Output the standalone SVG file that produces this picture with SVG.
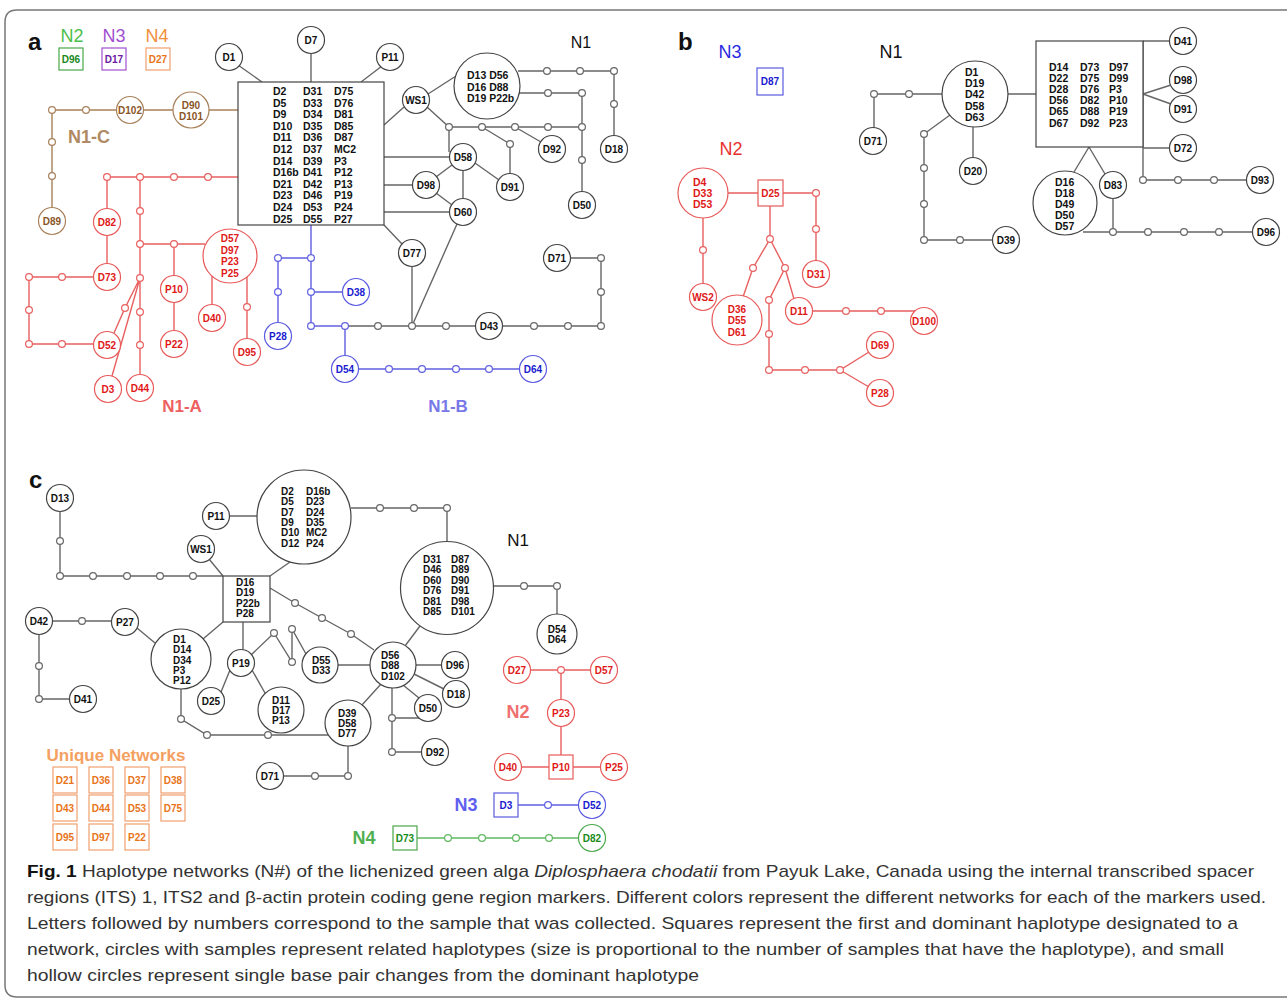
<svg xmlns="http://www.w3.org/2000/svg" xmlns:xlink="http://www.w3.org/1999/xlink" width="1287" height="998" viewBox="0 0 1287 998">
<style>
text{font-family:"Liberation Sans",Arial,Helvetica,sans-serif}
.n{font-weight:bold;font-size:10px;text-anchor:middle;dominant-baseline:central}
.nl{font-weight:bold;font-size:10.5px;dominant-baseline:central}
.c9{font-size:10px}
.K circle,.K rect{fill:#fff;stroke:#444;stroke-width:1.2}.K text{fill:#111}
.R circle,.R rect{fill:#fff;stroke:#e85a5a;stroke-width:1.2}.R text{fill:#e01818}
.B circle,.B rect{fill:#fff;stroke:#5a5ae0;stroke-width:1.2}.B text{fill:#1a1ad0}
.BR circle,.BR rect{fill:#fff;stroke:#a8805a;stroke-width:1.2}.BR text{fill:#8a5526}
.G circle,.G rect{fill:#fff;stroke:#4aa84a;stroke-width:1.2}.G text{fill:#1a8a1a}
.P rect{fill:#fff;stroke:#a050d0;stroke-width:1.2}.P text{fill:#6a1aa0}
.O rect{fill:#fff;stroke:#f0a070;stroke-width:1.2}.O text{fill:#e8741a}
.ck{stroke:#666;stroke-width:1.4;fill:none}
.cr{stroke:#e86060;stroke-width:1.4;fill:none}
.cb{stroke:#6060e0;stroke-width:1.4;fill:none}
.cbr{stroke:#a8805a;stroke-width:1.4;fill:none}
.cg{stroke:#60b860;stroke-width:1.4;fill:none}
.sK use{fill:#fff;stroke:#666;stroke-width:1.2}
.sR use{fill:#fff;stroke:#e86060;stroke-width:1.2}
.sB use{fill:#fff;stroke:#6060e0;stroke-width:1.2}
.sBR use{fill:#fff;stroke:#a8805a;stroke-width:1.2}
.sG use{fill:#fff;stroke:#60b860;stroke-width:1.2}
.lab{font-weight:bold}
.cap{font-size:17px;fill:#333}
</style>
<defs><circle id="s" r="3.4"/></defs>
<rect width="1287" height="998" fill="#fff"/>
<path d="M1300,10 H17 Q5,10 5,22 V985 Q5,997 17,997 H1300" fill="none" stroke="#777" stroke-width="1.5"/>

<!-- panel labels -->
<g id="labels">
<text x="28" y="50" font-size="24" font-weight="bold" fill="#111">a</text>
<text x="678" y="50" font-size="24" font-weight="bold" fill="#111">b</text>
<text x="29" y="488" font-size="24" font-weight="bold" fill="#111">c</text>
<text x="72" y="42" font-size="18" text-anchor="middle" fill="#4cc04c">N2</text>
<text x="114" y="42" font-size="18" text-anchor="middle" fill="#a050d0">N3</text>
<text x="157" y="42" font-size="18" text-anchor="middle" fill="#f09040">N4</text>
<text x="581" y="48" font-size="16" text-anchor="middle" fill="#111">N1</text>
<text x="89" y="143" font-size="18" class="lab" text-anchor="middle" fill="#b08a64">N1-C</text>
<text x="182" y="412" font-size="17" class="lab" text-anchor="middle" fill="#ee6060">N1-A</text>
<text x="448" y="412" font-size="17" class="lab" text-anchor="middle" fill="#7878e8">N1-B</text>
<text x="730" y="58" font-size="18" text-anchor="middle" fill="#2a2ae0">N3</text>
<text x="731" y="155" font-size="18" text-anchor="middle" fill="#e83030">N2</text>
<text x="891" y="58" font-size="18" text-anchor="middle" fill="#111">N1</text>
<text x="518" y="546" font-size="17" text-anchor="middle" fill="#111">N1</text>
<text x="518" y="718" font-size="18" class="lab" text-anchor="middle" fill="#f07070">N2</text>
<text x="466" y="811" font-size="18" class="lab" text-anchor="middle" fill="#6060f0">N3</text>
<text x="364" y="844" font-size="18" class="lab" text-anchor="middle" fill="#50b050">N4</text>
<text x="116" y="761" font-size="17" class="lab" text-anchor="middle" fill="#f4a060">Unique Networks</text>
</g>

<g id="connectors">
<!-- panel a black -->
<path class="ck" d="M238,65 L262,82 M311,53.5 V82 M382,66 L361,82 M384,125 L404,107 M428,94 L456,76 M518,71 H614 V135.5 M519,93 H582 V191.5 M427,107 L449,127 H582 M449,127 V152 M482,127 L510,144 V173.5 M515,127 L541,142 M384,157 H449.5 M384,185 H412.5 M384,212 H449.5 M452,165 L436,177 M436,193 L452,205 M463,170.5 V198.5 M475,163 L499,180 M457,224 L412,326 M384,225 L402,244 M412,266.5 V326 M345,326 H475.5 M502.5,326 H601 V258 H570.5"/>
<!-- panel a blue -->
<path class="cb" d="M311,225 V326 H345 V355.5 M311,258 H278 V322.5 M311,292 H342.5 M358.5,369 H519.5"/>
<!-- panel a red -->
<path class="cr" d="M238,177 H107 V208.5 M107,235.5 V263.5 M93.5,277 H29 V344 H93.5 M140,177 V374.5 M140,244 H205 M174,244 V275.5 M174,302.5 V330.5 M212,276 V304.5 M247,277 V338.5 M140,278 L125,308 L114,333 M140,278 L112,376"/>
<!-- panel a brown -->
<path class="cbr" d="M238,110 H209 M173,110 H143.5 M116.5,110 H52 V207.5"/>
<!-- panel b red -->
<path class="cr" d="M728,193 H758 M783,193 H816 V260.5 M703,218 V283.5 M770,206 V239 L753,268 L743,297 M770,239 L785,268 L794,299 M785,268 L769,300 V370 H840 L869,352 M840,370 L869,387 M812.5,311 H915"/>
<!-- panel b black -->
<path class="ck" d="M942,94 H874 V127.5 M950,115 L924,134 V240 H992.5 M973,127 V157.5 M1008,94 H1036 M1143,41 H1169.5 M1143,41 V180 H1246.5 M1143,94 L1171,85 M1143,94 L1171,104 M1143,148 H1169.5 M1089,147 L1074,172 M1089,147 L1105,174 M1113,198.5 V232 M1083,232 H1252.5"/>
<!-- panel c black -->
<path class="ck" d="M60,511.5 V576 H223 M209,559 L223,576 M229.5,516 H257 M290,562 L270,576 M351,508 H447 V541 M493,586 H557 V614 M420,626 L405,646 M270,588 L295,603 L322,618 L351,634 L374,650 M338,665 H370 M306,654 L292,629 V662 L274,633 L251,655 M243,622 V649.5 M230,670 L221,692 M252,670 L265,693 M203,639 L223,622 M137,628 L155,643 M52.5,621 H111.5 M39,634.5 V699 H69.5 M181,689 V719 L207,735 H328 M362,705 L381,684 M348,746 V776 H283.5 M416,665 H441.5 M414,674 L444,689 M403,685 L419,698 M392,688 V752 H421.5 M392,718 H420"/>
<!-- panel c red -->
<path class="cr" d="M530.5,670 H590.5 M561,670 V699.5 M561,726.5 V755 M521.5,767 H549 M573,767 H600.5"/>
<!-- panel c blue / green -->
<path class="cb" d="M518,805 H578.5"/>
<path class="cg" d="M417,838 H578.5"/>
</g>

<!-- ===== panel a nodes ===== -->
<g id="a-legend">
<g id="a-N2-D96" class="G"><rect x="59" y="48" width="24" height="22"/><text class="n" x="71" y="59" font-size="9">D96</text></g>
<g id="a-N3-D17" class="P"><rect x="102" y="48" width="24" height="22"/><text class="n" x="114" y="59" font-size="9">D17</text></g>
<g id="a-N4-D27" class="O"><rect x="146" y="48" width="24" height="22"/><text class="n" x="158" y="59" font-size="9">D27</text></g>
</g>
<g id="a-hub" class="K"><rect x="238" y="82" width="146" height="143"/>
<text class="nl" x="273" y="91"><tspan x="273">D2</tspan><tspan x="273" dy="11.6">D5</tspan><tspan x="273" dy="11.6">D9</tspan><tspan x="273" dy="11.6">D10</tspan><tspan x="273" dy="11.6">D11</tspan><tspan x="273" dy="11.6">D12</tspan><tspan x="273" dy="11.6">D14</tspan><tspan x="273" dy="11.6">D16b</tspan><tspan x="273" dy="11.6">D21</tspan><tspan x="273" dy="11.6">D23</tspan><tspan x="273" dy="11.6">D24</tspan><tspan x="273" dy="11.6">D25</tspan></text>
<text class="nl" x="303" y="91"><tspan x="303">D31</tspan><tspan x="303" dy="11.6">D33</tspan><tspan x="303" dy="11.6">D34</tspan><tspan x="303" dy="11.6">D35</tspan><tspan x="303" dy="11.6">D36</tspan><tspan x="303" dy="11.6">D37</tspan><tspan x="303" dy="11.6">D39</tspan><tspan x="303" dy="11.6">D41</tspan><tspan x="303" dy="11.6">D42</tspan><tspan x="303" dy="11.6">D46</tspan><tspan x="303" dy="11.6">D53</tspan><tspan x="303" dy="11.6">D55</tspan></text>
<text class="nl" x="334" y="91"><tspan x="334">D75</tspan><tspan x="334" dy="11.6">D76</tspan><tspan x="334" dy="11.6">D81</tspan><tspan x="334" dy="11.6">D85</tspan><tspan x="334" dy="11.6">D87</tspan><tspan x="334" dy="11.6">MC2</tspan><tspan x="334" dy="11.6">P3</tspan><tspan x="334" dy="11.6">P12</tspan><tspan x="334" dy="11.6">P13</tspan><tspan x="334" dy="11.6">P19</tspan><tspan x="334" dy="11.6">P24</tspan><tspan x="334" dy="11.6">P27</tspan></text>
</g>
<g id="a-D1" class="K"><circle cx="229" cy="57" r="13.5"/><text class="n" x="229" y="57">D1</text></g>
<g id="a-D7" class="K"><circle cx="311" cy="40" r="13.5"/><text class="n" x="311" y="40">D7</text></g>
<g id="a-P11" class="K"><circle cx="390" cy="57" r="13.5"/><text class="n" x="390" y="57">P11</text></g>
<g id="a-WS1" class="K"><circle cx="416" cy="100" r="13.5"/><text class="n" x="416" y="100">WS1</text></g>
<g id="a-D13" class="K"><circle cx="487" cy="86" r="33"/><text class="nl" x="467" y="75"><tspan x="467">D13 D56</tspan><tspan x="467" dy="11.5">D16 D88</tspan><tspan x="467" dy="11.5">D19 P22b</tspan></text></g>
<g id="a-D18" class="K"><circle cx="614" cy="149" r="13.5"/><text class="n" x="614" y="149">D18</text></g>
<g id="a-D50" class="K"><circle cx="582" cy="205" r="13.5"/><text class="n" x="582" y="205">D50</text></g>
<g id="a-D92" class="K"><circle cx="552" cy="149" r="13.5"/><text class="n" x="552" y="149">D92</text></g>
<g id="a-D91" class="K"><circle cx="510" cy="187" r="13.5"/><text class="n" x="510" y="187">D91</text></g>
<g id="a-D58" class="K"><circle cx="463" cy="157" r="13.5"/><text class="n" x="463" y="157">D58</text></g>
<g id="a-D98" class="K"><circle cx="426" cy="185" r="13.5"/><text class="n" x="426" y="185">D98</text></g>
<g id="a-D60" class="K"><circle cx="463" cy="212" r="13.5"/><text class="n" x="463" y="212">D60</text></g>
<g id="a-D77" class="K"><circle cx="412" cy="253" r="13.5"/><text class="n" x="412" y="253">D77</text></g>
<g id="a-D43" class="K"><circle cx="489" cy="326" r="13.5"/><text class="n" x="489" y="326">D43</text></g>
<g id="a-D71" class="K"><circle cx="557" cy="258" r="13.5"/><text class="n" x="557" y="258">D71</text></g>
<g id="a-P28" class="B"><circle cx="278" cy="336" r="13.5"/><text class="n" x="278" y="336">P28</text></g>
<g id="a-D38" class="B"><circle cx="356" cy="292" r="13.5"/><text class="n" x="356" y="292">D38</text></g>
<g id="a-D54" class="B"><circle cx="345" cy="369" r="13.5"/><text class="n" x="345" y="369">D54</text></g>
<g id="a-D64" class="B"><circle cx="533" cy="369" r="13.5"/><text class="n" x="533" y="369">D64</text></g>
<g id="a-D82" class="R"><circle cx="107" cy="222" r="13.5"/><text class="n" x="107" y="222">D82</text></g>
<g id="a-D73" class="R"><circle cx="107" cy="277" r="13.5"/><text class="n" x="107" y="277">D73</text></g>
<g id="a-D52" class="R"><circle cx="107" cy="345" r="13.5"/><text class="n" x="107" y="345">D52</text></g>
<g id="a-D3" class="R"><circle cx="108" cy="389" r="13.5"/><text class="n" x="108" y="389">D3</text></g>
<g id="a-D44" class="R"><circle cx="140" cy="388" r="13.5"/><text class="n" x="140" y="388">D44</text></g>
<g id="a-P10" class="R"><circle cx="174" cy="289" r="13.5"/><text class="n" x="174" y="289">P10</text></g>
<g id="a-P22" class="R"><circle cx="174" cy="344" r="13.5"/><text class="n" x="174" y="344">P22</text></g>
<g id="a-D40" class="R"><circle cx="212" cy="318" r="13.5"/><text class="n" x="212" y="318">D40</text></g>
<g id="a-D95" class="R"><circle cx="247" cy="352" r="13.5"/><text class="n" x="247" y="352">D95</text></g>
<g id="a-D57" class="R"><circle cx="230" cy="256" r="27"/><text class="n" x="230" y="238"><tspan x="230">D57</tspan><tspan x="230" dy="11.7">D97</tspan><tspan x="230" dy="11.7">P23</tspan><tspan x="230" dy="11.7">P25</tspan></text></g>
<g id="a-D90" class="BR"><circle cx="191" cy="110" r="18"/><text class="n" x="191" y="104.5"><tspan x="191">D90</tspan><tspan x="191" dy="11">D101</tspan></text></g>
<g id="a-D102" class="BR"><circle cx="130" cy="110" r="13.5"/><text class="n" x="130" y="110">D102</text></g>
<g id="a-D89" class="BR"><circle cx="52" cy="221" r="13.5"/><text class="n" x="52" y="221">D89</text></g>

<!-- ===== panel b nodes ===== -->
<g id="b-D87" class="B"><rect x="757" y="68" width="26" height="27"/><text class="n" x="770" y="81.5">D87</text></g>
<g id="b-D25" class="R"><rect x="758" y="180" width="25" height="26"/><text class="n" x="770.5" y="193">D25</text></g>
<g id="b-D4" class="R"><circle cx="703" cy="193" r="25"/><text class="nl" x="693" y="182"><tspan x="693">D4</tspan><tspan x="693" dy="11">D33</tspan><tspan x="693" dy="11">D53</tspan></text></g>
<g id="b-D31" class="R"><circle cx="816" cy="274" r="13.5"/><text class="n" x="816" y="274">D31</text></g>
<g id="b-WS2" class="R"><circle cx="703" cy="297" r="13.5"/><text class="n" x="703" y="297">WS2</text></g>
<g id="b-D36" class="R"><circle cx="737" cy="320" r="25"/><text class="n" x="737" y="309"><tspan x="737">D36</tspan><tspan x="737" dy="11.3">D55</tspan><tspan x="737" dy="11.3">D61</tspan></text></g>
<g id="b-D11" class="R"><circle cx="799" cy="311" r="13.5"/><text class="n" x="799" y="311">D11</text></g>
<g id="b-D100" class="R"><circle cx="924" cy="321" r="13.5"/><text class="n" x="924" y="321">D100</text></g>
<g id="b-D69" class="R"><circle cx="880" cy="345" r="13.5"/><text class="n" x="880" y="345">D69</text></g>
<g id="b-P28" class="R"><circle cx="880" cy="393" r="13.5"/><text class="n" x="880" y="393">P28</text></g>
<g id="b-D1" class="K"><circle cx="975" cy="94" r="33"/><text class="nl" x="965" y="72"><tspan x="965">D1</tspan><tspan x="965" dy="11.2">D19</tspan><tspan x="965" dy="11.2">D42</tspan><tspan x="965" dy="11.2">D58</tspan><tspan x="965" dy="11.2">D63</tspan></text></g>
<g id="b-D71" class="K"><circle cx="873" cy="141" r="13.5"/><text class="n" x="873" y="141">D71</text></g>
<g id="b-D20" class="K"><circle cx="973" cy="171" r="13.5"/><text class="n" x="973" y="171">D20</text></g>
<g id="b-D39" class="K"><circle cx="1006" cy="240" r="13.5"/><text class="n" x="1006" y="240">D39</text></g>
<g id="b-hub" class="K"><rect x="1036" y="41" width="107" height="106"/>
<text class="nl" x="1049" y="67"><tspan x="1049">D14</tspan><tspan x="1049" dy="11.1">D22</tspan><tspan x="1049" dy="11.1">D28</tspan><tspan x="1049" dy="11.1">D56</tspan><tspan x="1049" dy="11.1">D65</tspan><tspan x="1049" dy="11.1">D67</tspan></text>
<text class="nl" x="1080" y="67"><tspan x="1080">D73</tspan><tspan x="1080" dy="11.1">D75</tspan><tspan x="1080" dy="11.1">D76</tspan><tspan x="1080" dy="11.1">D82</tspan><tspan x="1080" dy="11.1">D88</tspan><tspan x="1080" dy="11.1">D92</tspan></text>
<text class="nl" x="1109" y="67"><tspan x="1109">D97</tspan><tspan x="1109" dy="11.1">D99</tspan><tspan x="1109" dy="11.1">P3</tspan><tspan x="1109" dy="11.1">P10</tspan><tspan x="1109" dy="11.1">P19</tspan><tspan x="1109" dy="11.1">P23</tspan></text>
</g>
<g id="b-D41" class="K"><circle cx="1183" cy="41" r="13.5"/><text class="n" x="1183" y="41">D41</text></g>
<g id="b-D98" class="K"><circle cx="1183" cy="80" r="13.5"/><text class="n" x="1183" y="80">D98</text></g>
<g id="b-D91" class="K"><circle cx="1183" cy="109" r="13.5"/><text class="n" x="1183" y="109">D91</text></g>
<g id="b-D72" class="K"><circle cx="1183" cy="148" r="13.5"/><text class="n" x="1183" y="148">D72</text></g>
<g id="b-D93" class="K"><circle cx="1260" cy="180" r="13.5"/><text class="n" x="1260" y="180">D93</text></g>
<g id="b-D16" class="K"><circle cx="1065" cy="203" r="32"/><text class="nl" x="1055" y="182"><tspan x="1055">D16</tspan><tspan x="1055" dy="11">D18</tspan><tspan x="1055" dy="11">D49</tspan><tspan x="1055" dy="11">D50</tspan><tspan x="1055" dy="11">D57</tspan></text></g>
<g id="b-D83" class="K"><circle cx="1113" cy="185" r="13.5"/><text class="n" x="1113" y="185">D83</text></g>
<g id="b-D96" class="K"><circle cx="1266" cy="232" r="13.5"/><text class="n" x="1266" y="232">D96</text></g>

<!-- ===== panel c nodes ===== -->
<g id="c-D13" class="K"><circle cx="60" cy="498" r="13.5"/><text class="n c9" x="60" y="498">D13</text></g>
<g id="c-P11" class="K"><circle cx="216" cy="516" r="13.5"/><text class="n c9" x="216" y="516">P11</text></g>
<g id="c-WS1" class="K"><circle cx="201" cy="549" r="13.5"/><text class="n c9" x="201" y="549">WS1</text></g>
<g id="c-D2" class="K"><circle cx="304" cy="517" r="47"/>
<text class="nl c9" x="281" y="491"><tspan x="281">D2</tspan><tspan x="281" dy="10.3">D5</tspan><tspan x="281" dy="10.3">D7</tspan><tspan x="281" dy="10.3">D9</tspan><tspan x="281" dy="10.3">D10</tspan><tspan x="281" dy="10.3">D12</tspan></text>
<text class="nl c9" x="306" y="491"><tspan x="306">D16b</tspan><tspan x="306" dy="10.3">D23</tspan><tspan x="306" dy="10.3">D24</tspan><tspan x="306" dy="10.3">D35</tspan><tspan x="306" dy="10.3">MC2</tspan><tspan x="306" dy="10.3">P24</tspan></text></g>
<g id="c-D16" class="K"><rect x="223" y="576" width="47" height="46"/><text class="nl c9" x="236" y="582"><tspan x="236">D16</tspan><tspan x="236" dy="10.4">D19</tspan><tspan x="236" dy="10.4">P22b</tspan><tspan x="236" dy="10.4">P28</tspan></text></g>
<g id="c-D31" class="K"><circle cx="447" cy="588" r="46.5"/>
<text class="nl c9" x="423" y="559"><tspan x="423">D31</tspan><tspan x="423" dy="10.4">D46</tspan><tspan x="423" dy="10.4">D60</tspan><tspan x="423" dy="10.4">D76</tspan><tspan x="423" dy="10.4">D81</tspan><tspan x="423" dy="10.4">D85</tspan></text>
<text class="nl c9" x="451" y="559"><tspan x="451">D87</tspan><tspan x="451" dy="10.4">D89</tspan><tspan x="451" dy="10.4">D90</tspan><tspan x="451" dy="10.4">D91</tspan><tspan x="451" dy="10.4">D98</tspan><tspan x="451" dy="10.4">D101</tspan></text></g>
<g id="c-D54" class="K"><circle cx="557" cy="634" r="20"/><text class="n c9" x="557" y="629"><tspan x="557">D54</tspan><tspan x="557" dy="10.3">D64</tspan></text></g>
<g id="c-D56" class="K"><circle cx="393" cy="665" r="23"/><text class="nl c9" x="381" y="654.5"><tspan x="381">D56</tspan><tspan x="381" dy="10.6">D88</tspan><tspan x="381" dy="10.6">D102</tspan></text></g>
<g id="c-D55" class="K"><circle cx="320" cy="665" r="18"/><text class="nl c9" x="312" y="659.5"><tspan x="312">D55</tspan><tspan x="312" dy="10.4">D33</tspan></text></g>
<g id="c-P19" class="K"><circle cx="241" cy="663" r="13.5"/><text class="n c9" x="241" y="663">P19</text></g>
<g id="c-D25" class="K"><circle cx="211" cy="701" r="13.5"/><text class="n c9" x="211" y="701">D25</text></g>
<g id="c-D11" class="K"><circle cx="281" cy="710" r="23"/><text class="nl c9" x="272" y="699.5"><tspan x="272">D11</tspan><tspan x="272" dy="10.4">D17</tspan><tspan x="272" dy="10.4">P13</tspan></text></g>
<g id="c-D1" class="K"><circle cx="181" cy="659" r="30"/><text class="nl c9" x="173" y="639"><tspan x="173">D1</tspan><tspan x="173" dy="10.3">D14</tspan><tspan x="173" dy="10.3">D34</tspan><tspan x="173" dy="10.3">P3</tspan><tspan x="173" dy="10.3">P12</tspan></text></g>
<g id="c-P27" class="K"><circle cx="125" cy="622" r="13.5"/><text class="n c9" x="125" y="622">P27</text></g>
<g id="c-D42" class="K"><circle cx="39" cy="621" r="13.5"/><text class="n c9" x="39" y="621">D42</text></g>
<g id="c-D41" class="K"><circle cx="83" cy="699" r="13.5"/><text class="n c9" x="83" y="699">D41</text></g>
<g id="c-D39" class="K"><circle cx="348" cy="723" r="23"/><text class="nl c9" x="338" y="712.5"><tspan x="338">D39</tspan><tspan x="338" dy="10.4">D58</tspan><tspan x="338" dy="10.4">D77</tspan></text></g>
<g id="c-D71" class="K"><circle cx="270" cy="776" r="13.5"/><text class="n c9" x="270" y="776">D71</text></g>
<g id="c-D96" class="K"><circle cx="455" cy="665" r="13.5"/><text class="n c9" x="455" y="665">D96</text></g>
<g id="c-D18" class="K"><circle cx="456" cy="694" r="13.5"/><text class="n c9" x="456" y="694">D18</text></g>
<g id="c-D50" class="K"><circle cx="428" cy="708" r="13.5"/><text class="n c9" x="428" y="708">D50</text></g>
<g id="c-D92" class="K"><circle cx="435" cy="752" r="13.5"/><text class="n c9" x="435" y="752">D92</text></g>
<g id="c-D27" class="R"><circle cx="517" cy="670" r="13.5"/><text class="n c9" x="517" y="670">D27</text></g>
<g id="c-D57" class="R"><circle cx="604" cy="670" r="13.5"/><text class="n c9" x="604" y="670">D57</text></g>
<g id="c-P23" class="R"><circle cx="561" cy="713" r="13.5"/><text class="n c9" x="561" y="713">P23</text></g>
<g id="c-P10" class="R"><rect x="549" y="755" width="24" height="24"/><text class="n c9" x="561" y="767">P10</text></g>
<g id="c-D40" class="R"><circle cx="508" cy="767" r="13.5"/><text class="n c9" x="508" y="767">D40</text></g>
<g id="c-P25" class="R"><circle cx="614" cy="767" r="13.5"/><text class="n c9" x="614" y="767">P25</text></g>
<g id="c-D3" class="B"><rect x="494" y="793" width="24" height="24"/><text class="n c9" x="506" y="805">D3</text></g>
<g id="c-D52" class="B"><circle cx="592" cy="805" r="13.5"/><text class="n c9" x="592" y="805">D52</text></g>
<g id="c-D73" class="G"><rect x="393" y="826" width="24" height="24"/><text class="n c9" x="405" y="838">D73</text></g>
<g id="c-D82" class="G"><circle cx="592" cy="838" r="13.5"/><text class="n c9" x="592" y="838">D82</text></g>
<g id="c-unique" class="O">
<rect x="53" y="767" width="24" height="26"/><text class="n c9" x="65" y="780">D21</text>
<rect x="89" y="767" width="24" height="26"/><text class="n c9" x="101" y="780">D36</text>
<rect x="125" y="767" width="24" height="26"/><text class="n c9" x="137" y="780">D37</text>
<rect x="161" y="767" width="24" height="26"/><text class="n c9" x="173" y="780">D38</text>
<rect x="53" y="795" width="24" height="26"/><text class="n c9" x="65" y="808">D43</text>
<rect x="89" y="795" width="24" height="26"/><text class="n c9" x="101" y="808">D44</text>
<rect x="125" y="795" width="24" height="26"/><text class="n c9" x="137" y="808">D53</text>
<rect x="161" y="795" width="24" height="26"/><text class="n c9" x="173" y="808">D75</text>
<rect x="53" y="824" width="24" height="26"/><text class="n c9" x="65" y="837">D95</text>
<rect x="89" y="824" width="24" height="26"/><text class="n c9" x="101" y="837">D97</text>
<rect x="125" y="824" width="24" height="26"/><text class="n c9" x="137" y="837">P22</text>
</g>

<!-- mutation steps -->
<g id="steps">
<g class="sK">
<use href="#s" x="547" y="71"/><use href="#s" x="580" y="71"/><use href="#s" x="614" y="71"/><use href="#s" x="614" y="104"/><use href="#s" x="548" y="93"/><use href="#s" x="582" y="93"/><use href="#s" x="582" y="127"/><use href="#s" x="582" y="160"/><use href="#s" x="449" y="127"/><use href="#s" x="482" y="127"/><use href="#s" x="515" y="127"/><use href="#s" x="548" y="127"/><use href="#s" x="510" y="144"/><use href="#s" x="378" y="326"/><use href="#s" x="412" y="326"/><use href="#s" x="446" y="326"/><use href="#s" x="534" y="326"/><use href="#s" x="568" y="326"/><use href="#s" x="601" y="326"/><use href="#s" x="601" y="292"/><use href="#s" x="601" y="258"/>
<use href="#s" x="909" y="94"/><use href="#s" x="874" y="94"/><use href="#s" x="924" y="134"/><use href="#s" x="924" y="168"/><use href="#s" x="924" y="204"/><use href="#s" x="924" y="240"/><use href="#s" x="960" y="240"/><use href="#s" x="1143" y="180"/><use href="#s" x="1178" y="180"/><use href="#s" x="1214" y="180"/><use href="#s" x="1113" y="232"/><use href="#s" x="1148" y="232"/><use href="#s" x="1184" y="232"/><use href="#s" x="1219" y="232"/>
<use href="#s" x="60" y="541"/><use href="#s" x="60" y="576"/><use href="#s" x="93" y="576"/><use href="#s" x="127" y="576"/><use href="#s" x="160" y="576"/><use href="#s" x="193" y="576"/><use href="#s" x="380" y="508"/><use href="#s" x="414" y="508"/><use href="#s" x="447" y="508"/><use href="#s" x="524" y="586"/><use href="#s" x="557" y="586"/><use href="#s" x="295" y="603"/><use href="#s" x="322" y="618"/><use href="#s" x="351" y="634"/><use href="#s" x="292" y="629"/><use href="#s" x="292" y="662"/><use href="#s" x="274" y="633"/><use href="#s" x="82" y="621"/><use href="#s" x="39" y="666"/><use href="#s" x="39" y="699"/><use href="#s" x="181" y="719"/><use href="#s" x="207" y="735"/><use href="#s" x="268" y="735"/><use href="#s" x="348" y="776"/><use href="#s" x="315" y="776"/><use href="#s" x="392" y="718"/><use href="#s" x="392" y="752"/>
</g>
<g class="sB">
<use href="#s" x="311" y="258"/><use href="#s" x="311" y="292"/><use href="#s" x="311" y="326"/><use href="#s" x="278" y="258"/><use href="#s" x="278" y="292"/><use href="#s" x="345" y="326"/><use href="#s" x="389" y="369"/><use href="#s" x="422" y="369"/><use href="#s" x="456" y="369"/><use href="#s" x="489" y="369"/>
<use href="#s" x="548" y="805"/>
</g>
<g class="sR">
<use href="#s" x="107" y="177"/><use href="#s" x="140" y="177"/><use href="#s" x="174" y="177"/><use href="#s" x="208" y="177"/><use href="#s" x="62" y="277"/><use href="#s" x="29" y="277"/><use href="#s" x="29" y="310"/><use href="#s" x="29" y="344"/><use href="#s" x="62" y="344"/><use href="#s" x="140" y="211"/><use href="#s" x="140" y="244"/><use href="#s" x="140" y="278"/><use href="#s" x="140" y="312"/><use href="#s" x="140" y="345"/><use href="#s" x="174" y="244"/><use href="#s" x="125" y="308"/><use href="#s" x="247" y="307"/>
<use href="#s" x="816" y="193"/><use href="#s" x="816" y="229"/><use href="#s" x="703" y="250"/><use href="#s" x="770" y="239"/><use href="#s" x="753" y="268"/><use href="#s" x="785" y="268"/><use href="#s" x="769" y="300"/><use href="#s" x="769" y="334"/><use href="#s" x="769" y="370"/><use href="#s" x="805" y="370"/><use href="#s" x="840" y="370"/><use href="#s" x="846" y="311"/><use href="#s" x="881" y="311"/>
<use href="#s" x="561" y="670"/>
</g>
<g class="sBR"><use href="#s" x="86" y="110"/><use href="#s" x="52" y="110"/><use href="#s" x="52" y="142"/><use href="#s" x="52" y="176"/></g>
<g class="sG"><use href="#s" x="448" y="838"/><use href="#s" x="482" y="838"/><use href="#s" x="516" y="838"/><use href="#s" x="549" y="838"/></g>
</g>

<g id="caption">
<text class="cap" x="27" y="877" textLength="1227" lengthAdjust="spacingAndGlyphs"><tspan font-weight="bold" fill="#111">Fig. 1</tspan>  Haplotype networks (N#) of the lichenized green alga <tspan font-style="italic">Diplosphaera chodatii</tspan> from Payuk Lake, Canada using the internal transcribed spacer</text>
<text class="cap" x="27" y="903" textLength="1239" lengthAdjust="spacingAndGlyphs">regions (ITS) 1, ITS2 and β-actin protein coding gene region markers. Different colors represent the different networks for each of the markers used.</text>
<text class="cap" x="27" y="929" textLength="1211" lengthAdjust="spacingAndGlyphs">Letters followed by numbers correspond to the sample that was collected. Squares represent the first and dominant haplotype designated to a</text>
<text class="cap" x="27" y="955" textLength="1197" lengthAdjust="spacingAndGlyphs">network, circles with samples represent related haplotypes (size is proportional to the number of samples that have the haplotype), and small</text>
<text class="cap" x="27" y="981" textLength="672" lengthAdjust="spacingAndGlyphs">hollow circles represent single base pair changes from the dominant haplotype</text>
</g>
</svg>
